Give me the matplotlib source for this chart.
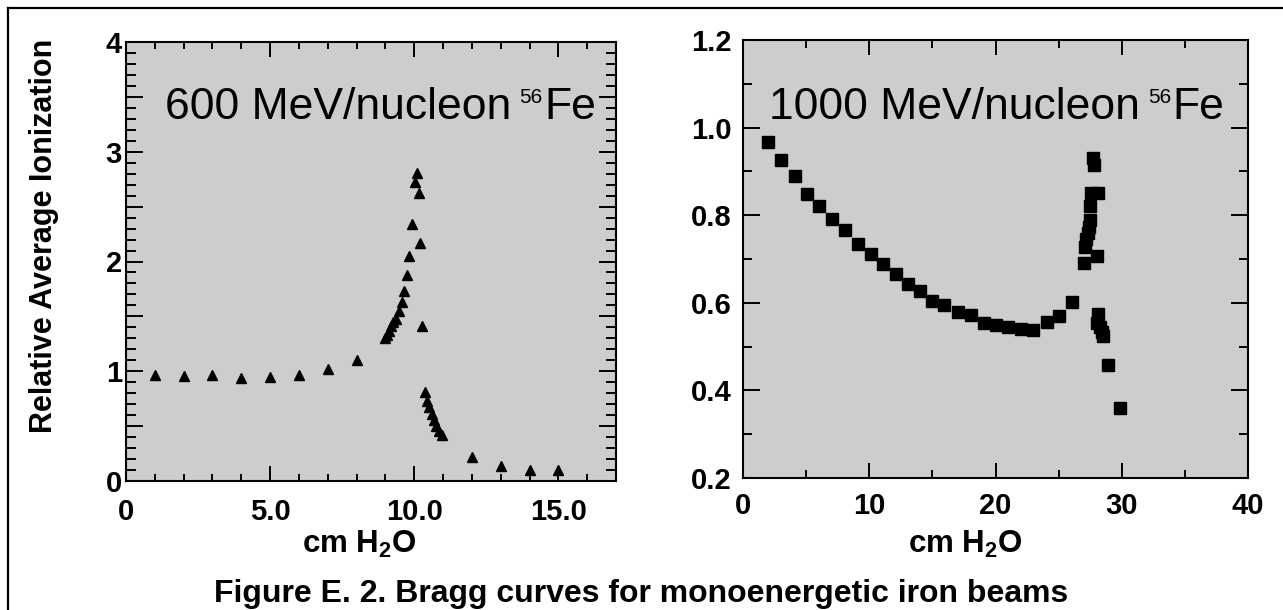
import matplotlib
matplotlib.use("Agg")
import matplotlib.pyplot as plt
from matplotlib.ticker import MultipleLocator, FuncFormatter
from matplotlib.lines import Line2D

plt.rcParams['font.family'] = ['Liberation Sans', 'DejaVu Sans']
plt.rcParams['mathtext.fontset'] = 'custom'
plt.rcParams['mathtext.rm'] = 'Liberation Sans'
plt.rcParams['mathtext.bf'] = 'Liberation Sans:bold'

# 600 MeV/nucleon 56Fe (triangles)
depth_600 = [1.0, 2.0, 3.0, 4.0, 5.0, 6.0, 7.0, 8.0,
             8.99, 9.06, 9.13, 9.2, 9.28, 9.37, 9.48, 9.58, 9.66, 9.75, 9.83, 9.93,
             10.03, 10.08, 10.15, 10.2, 10.26,
             10.36, 10.44, 10.52, 10.6, 10.68, 10.77, 10.87, 10.97,
             12.0, 13.0, 14.0, 15.0]
ion_600 = [0.966, 0.96, 0.966, 0.94, 0.95, 0.97, 1.02, 1.106,
           1.30, 1.33, 1.37, 1.41, 1.45, 1.48, 1.55, 1.63, 1.73, 1.875, 2.05, 2.34,
           2.72, 2.81, 2.62, 2.17, 1.41,
           0.81, 0.73, 0.67, 0.61, 0.56, 0.50, 0.46, 0.42,
           0.22, 0.14, 0.10, 0.10]

# 1000 MeV/nucleon 56Fe (squares)
depth_1000 = [2.0, 3.0, 4.1, 5.05, 6.05, 7.05, 8.05, 9.1, 10.1, 11.1, 12.1, 13.05,
              14.0, 15.0, 15.95, 17.05, 18.05, 19.05, 20.0, 21.0, 22.0, 22.95,
              24.1, 25.0, 26.05,
              27.0, 27.1, 27.2, 27.3, 27.4, 27.5, 27.5, 27.55, 27.75, 27.8, 28.1, 28.05,
              28.15, 28.05, 28.3, 28.4, 28.5, 28.95, 29.9]
ion_1000 = [0.966, 0.925, 0.890, 0.849, 0.821, 0.792, 0.767, 0.735, 0.712, 0.688, 0.665, 0.642,
            0.627, 0.605, 0.594, 0.578, 0.572, 0.555, 0.550, 0.544, 0.540, 0.537,
            0.556, 0.571, 0.602,
            0.691, 0.727, 0.746, 0.760, 0.774, 0.790, 0.822, 0.851, 0.930, 0.915, 0.851, 0.707,
            0.575, 0.553, 0.544, 0.533, 0.524, 0.457, 0.359]

fig = plt.figure(figsize=(12.83, 6.10), dpi=100)
bg = '#cdcdcd'

# frame lines (top and left only)
fig.add_artist(Line2D([8 / 1283, 1.0], [1 - 8 / 610, 1 - 8 / 610], color='black', lw=1.6,
                      transform=fig.transFigure))
fig.add_artist(Line2D([8 / 1283, 8 / 1283], [0.0, 1 - 8 / 610], color='black', lw=1.6,
                      transform=fig.transFigure))

ax1 = fig.add_axes([126 / 1283, 129 / 610, 490 / 1283, 439 / 610], facecolor=bg)
ax2 = fig.add_axes([743 / 1283, 132 / 610, 505 / 1283, 438 / 610], facecolor=bg)

for ax in (ax1, ax2):
    for sp in ax.spines.values():
        sp.set_linewidth(1.5)
    ax.tick_params(which='both', direction='in', top=True, right=True, width=1.4,
                   labelsize=21)

# ---- left panel
ax1.plot(depth_600, ion_600, linestyle='none', marker='^', ms=7.5, color='black')
ax1.set_xlim(0, 17)
ax1.set_ylim(0, 4)
ax1.xaxis.set_major_locator(MultipleLocator(5))
ax1.xaxis.set_minor_locator(MultipleLocator(1))
ax1.yaxis.set_major_locator(MultipleLocator(0.5))
ax1.yaxis.set_minor_locator(MultipleLocator(0.1))
ax1.xaxis.set_major_formatter(FuncFormatter(lambda v, p: '0' if v == 0 else f'{v:.1f}'))
ax1.yaxis.set_major_formatter(FuncFormatter(lambda v, p: f'{v:.0f}' if abs(v - round(v)) < 1e-6 else ''))
ax1.tick_params(axis='x', which='major', length=11, pad=12)
ax1.tick_params(axis='x', which='minor', length=5)
ax1.tick_params(axis='y', which='major', length=12, pad=3)
ax1.tick_params(axis='y', which='minor', length=7)
for lb in ax1.get_xticklabels() + ax1.get_yticklabels():
    lb.set_fontweight('bold')
for loc, tk in zip(ax1.yaxis.get_minorticklocs(), ax1.yaxis.get_minor_ticks()):
    if 0.15 < loc < 0.45:
        tk.tick1line.set_color('#8c8c8c')

ax1.set_xlabel(r'cm H$_\mathbf{2}$O', fontsize=22.5, fontweight='bold', va='baseline')
ax1.xaxis.set_label_coords(0.476, -0.164)
ax1.set_ylabel('Relative Average Ionization', fontsize=22, fontweight='bold')
ax1.yaxis.set_label_coords(-0.137, 0.558)

# ---- right panel
ax2.plot(depth_1000, ion_1000, linestyle='none', marker='s', ms=8, color='black')
ax2.set_xlim(0, 40)
ax2.set_ylim(0.2, 1.2)
ax2.xaxis.set_major_locator(MultipleLocator(10))
ax2.xaxis.set_minor_locator(MultipleLocator(5))
ax2.yaxis.set_major_locator(MultipleLocator(0.2))
ax2.yaxis.set_minor_locator(MultipleLocator(0.1))
ax2.xaxis.set_major_formatter(FuncFormatter(lambda v, p: f'{v:.0f}'))
ax2.yaxis.set_major_formatter(FuncFormatter(lambda v, p: f'{v:.1f}'))
ax2.tick_params(axis='x', which='major', length=11, pad=10)
ax2.tick_params(axis='x', which='minor', length=6)
ax2.tick_params(axis='y', which='major', length=12, pad=8)
ax2.tick_params(axis='y', which='minor', length=6.5)
for lb in ax2.get_xticklabels() + ax2.get_yticklabels():
    lb.set_fontweight('bold')

ax2.set_xlabel(r'cm H$_\mathbf{2}$O', fontsize=22.5, fontweight='bold', va='baseline')
ax2.xaxis.set_label_coords(0.44, -0.171)


def beam_label(ax, x, y, main):
    t1 = ax.text(x, y, main, transform=ax.transAxes, fontsize=32,
                 va='baseline', ha='left')
    t2 = ax.annotate('56', xy=(1, 0), xycoords=t1, xytext=(6, 18),
                     textcoords='offset points', fontsize=15, va='baseline', ha='left')
    ax.annotate('Fe', xy=(1, 0), xycoords=(t2, t1), xytext=(1, 0),
                textcoords='offset points', fontsize=32, va='bottom', ha='left')


beam_label(ax1, 0.0796, 0.8246, '600 MeV/nucleon')
beam_label(ax2, 0.0515, 0.8196, '1000 MeV/nucleon')

fig.text(0.5, 8 / 610, 'Figure E. 2. Bragg curves for monoenergetic iron beams',
         ha='center', va='baseline', fontsize=23, fontweight='bold')

fig.savefig('out.png', dpi=100)
